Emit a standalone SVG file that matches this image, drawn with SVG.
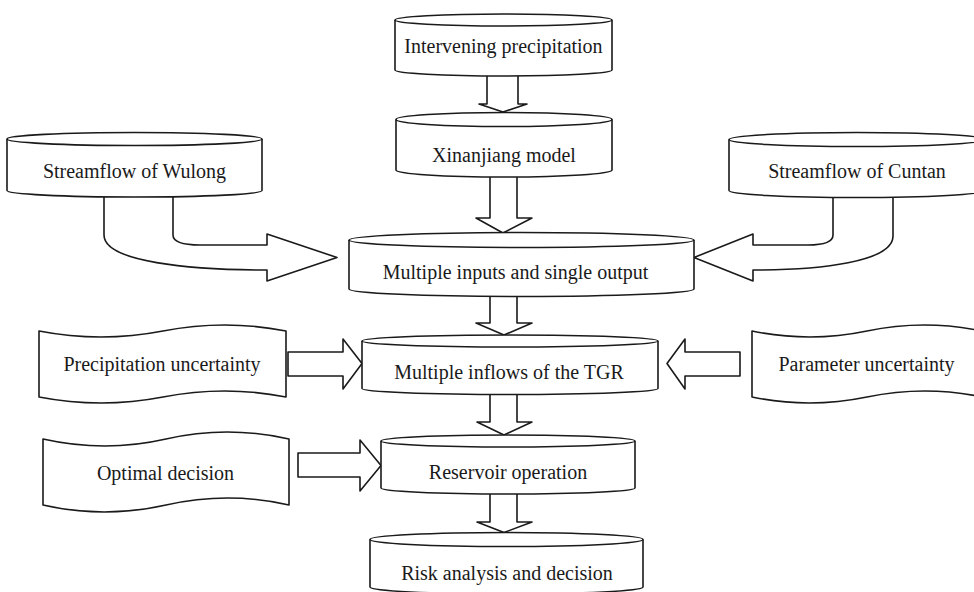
<svg xmlns="http://www.w3.org/2000/svg" width="974" height="592" viewBox="0 0 974 592">
<style>
  .shape { fill: #ffffff; stroke: #1a1a1a; stroke-width: 1.6; stroke-linejoin: round; }
  .lbl { font-family: "Liberation Serif", "Times New Roman", serif; font-size: 20px; fill: #1a1a1a; text-anchor: middle; }
</style>
<rect x="0" y="0" width="974" height="592" fill="#ffffff"/>

<g id="connectors">
  <!-- vertical block arrows -->
  <path class="shape" d="M487,76 L487,104 L479,104 L503,112 L527,104 L518,104 L518,76"/>
  <path class="shape" d="M490,177 L490,218 L476,218 L503,233 L532,218 L517,218 L517,177"/>
  <path class="shape" d="M490,297 L490,323 L476,323 L504,335 L532,323 L517,323 L517,297"/>
  <path class="shape" d="M490,394 L490,422 L477,422 L504,435 L532,422 L517,422 L517,394"/>
  <path class="shape" d="M490,494 L490,522 L477,522 L504,532.5 L532,522 L517,522 L517,494"/>
  <!-- horizontal block arrows -->
  <path class="shape" d="M288,352 L343,352 L343,339 L362,363.5 L343,389 L343,376 L288,376 Z"/>
  <path class="shape" d="M298,453 L360,453 L360,440 L381,465.5 L360,491 L360,477 L298,477 Z"/>
  <path class="shape" d="M740,352 L685,352 L685,339 L667,363.5 L685,389 L685,376 L740,376 Z"/>
  <!-- curved arrow from Wulong -->
  <path class="shape" d="M104,197 L104,235 C104,262 190,270 267,270 L267,281 L337,257.5 L267,234 L267,245 L200,245 C185,245 173,243 173,235 L173,197"/>
  <!-- curved arrow from Cuntan -->
  <path class="shape" d="M893,197 L893,236 C893,262 820,270 753,270 L753,281 L694,257.5 L753,234 L753,245 L808,245 C822,245 833,243 833,235 L833,197"/>
</g>

<g id="intervening">
  <path class="shape" d="M395,20 L395,70 A108.5,6 0 0 0 612,70 L612,20"/>
  <ellipse class="shape" cx="503.5" cy="20" rx="108.5" ry="6"/>
  <text class="lbl" x="503.5" y="53">Intervening precipitation</text>
</g>

<g id="xinanjiang">
  <path class="shape" d="M396,119.5 L396,170 A108,7 0 0 0 612,170 L612,119.5"/>
  <ellipse class="shape" cx="504" cy="119.5" rx="108" ry="7"/>
  <text class="lbl" x="504" y="162">Xinanjiang model</text>
</g>

<g id="wulong">
  <path class="shape" d="M7,139 L7,190.5 A127.5,6.5 0 0 0 262,190.5 L262,139"/>
  <ellipse class="shape" cx="134.5" cy="139" rx="127.5" ry="6.5"/>
  <text class="lbl" x="134.5" y="178">Streamflow of Wulong</text>
</g>

<g id="cuntan">
  <path class="shape" d="M729,139.5 L729,190.5 A128,7 0 0 0 985,190.5 L985,139.5"/>
  <ellipse class="shape" cx="857" cy="139.5" rx="128" ry="7"/>
  <text class="lbl" x="857" y="178">Streamflow of Cuntan</text>
</g>

<g id="multiple-inputs">
  <path class="shape" d="M349,240 L349,289 A172.5,7.5 0 0 0 694,289 L694,240"/>
  <ellipse class="shape" cx="521.5" cy="240" rx="172.5" ry="7.5"/>
  <text class="lbl" x="515.5" y="279">Multiple inputs and single output</text>
</g>

<g id="precipitation-uncertainty">
  <path class="shape" d="M39,331 Q101,343 163,331 T286,331 L286,397 Q225,385 163,397 T39,397 Z"/>
  <text class="lbl" x="162" y="371">Precipitation uncertainty</text>
</g>

<g id="multiple-inflows">
  <path class="shape" d="M362,341 L362,388.5 A148,6 0 0 0 658,388.5 L658,341"/>
  <ellipse class="shape" cx="510" cy="341" rx="148" ry="6"/>
  <text class="lbl" x="509" y="379">Multiple inflows of the TGR</text>
</g>

<g id="parameter-uncertainty">
  <path class="shape" d="M752,331 Q810,343 867,331 T982,331 L982,397 Q925,385 867,397 T752,397 Z"/>
  <text class="lbl" x="866.5" y="371">Parameter uncertainty</text>
</g>

<g id="optimal-decision">
  <path class="shape" d="M43,439 Q105,453 166,439 T289,439 L289,505 Q228,491 166,505 T43,505 Z"/>
  <text class="lbl" x="165.5" y="480">Optimal decision</text>
</g>

<g id="reservoir-operation">
  <path class="shape" d="M381,441 L381,488 A127,6 0 0 0 635,488 L635,441"/>
  <ellipse class="shape" cx="508" cy="441" rx="127" ry="6"/>
  <text class="lbl" x="508" y="479">Reservoir operation</text>
</g>

<g id="risk-analysis">
  <path class="shape" d="M370,539.5 L370,587 A136.5,7 0 0 0 643,587 L643,539.5"/>
  <ellipse class="shape" cx="506.5" cy="539.5" rx="136.5" ry="7"/>
  <text class="lbl" x="507" y="580">Risk analysis and decision</text>
</g>
</svg>
